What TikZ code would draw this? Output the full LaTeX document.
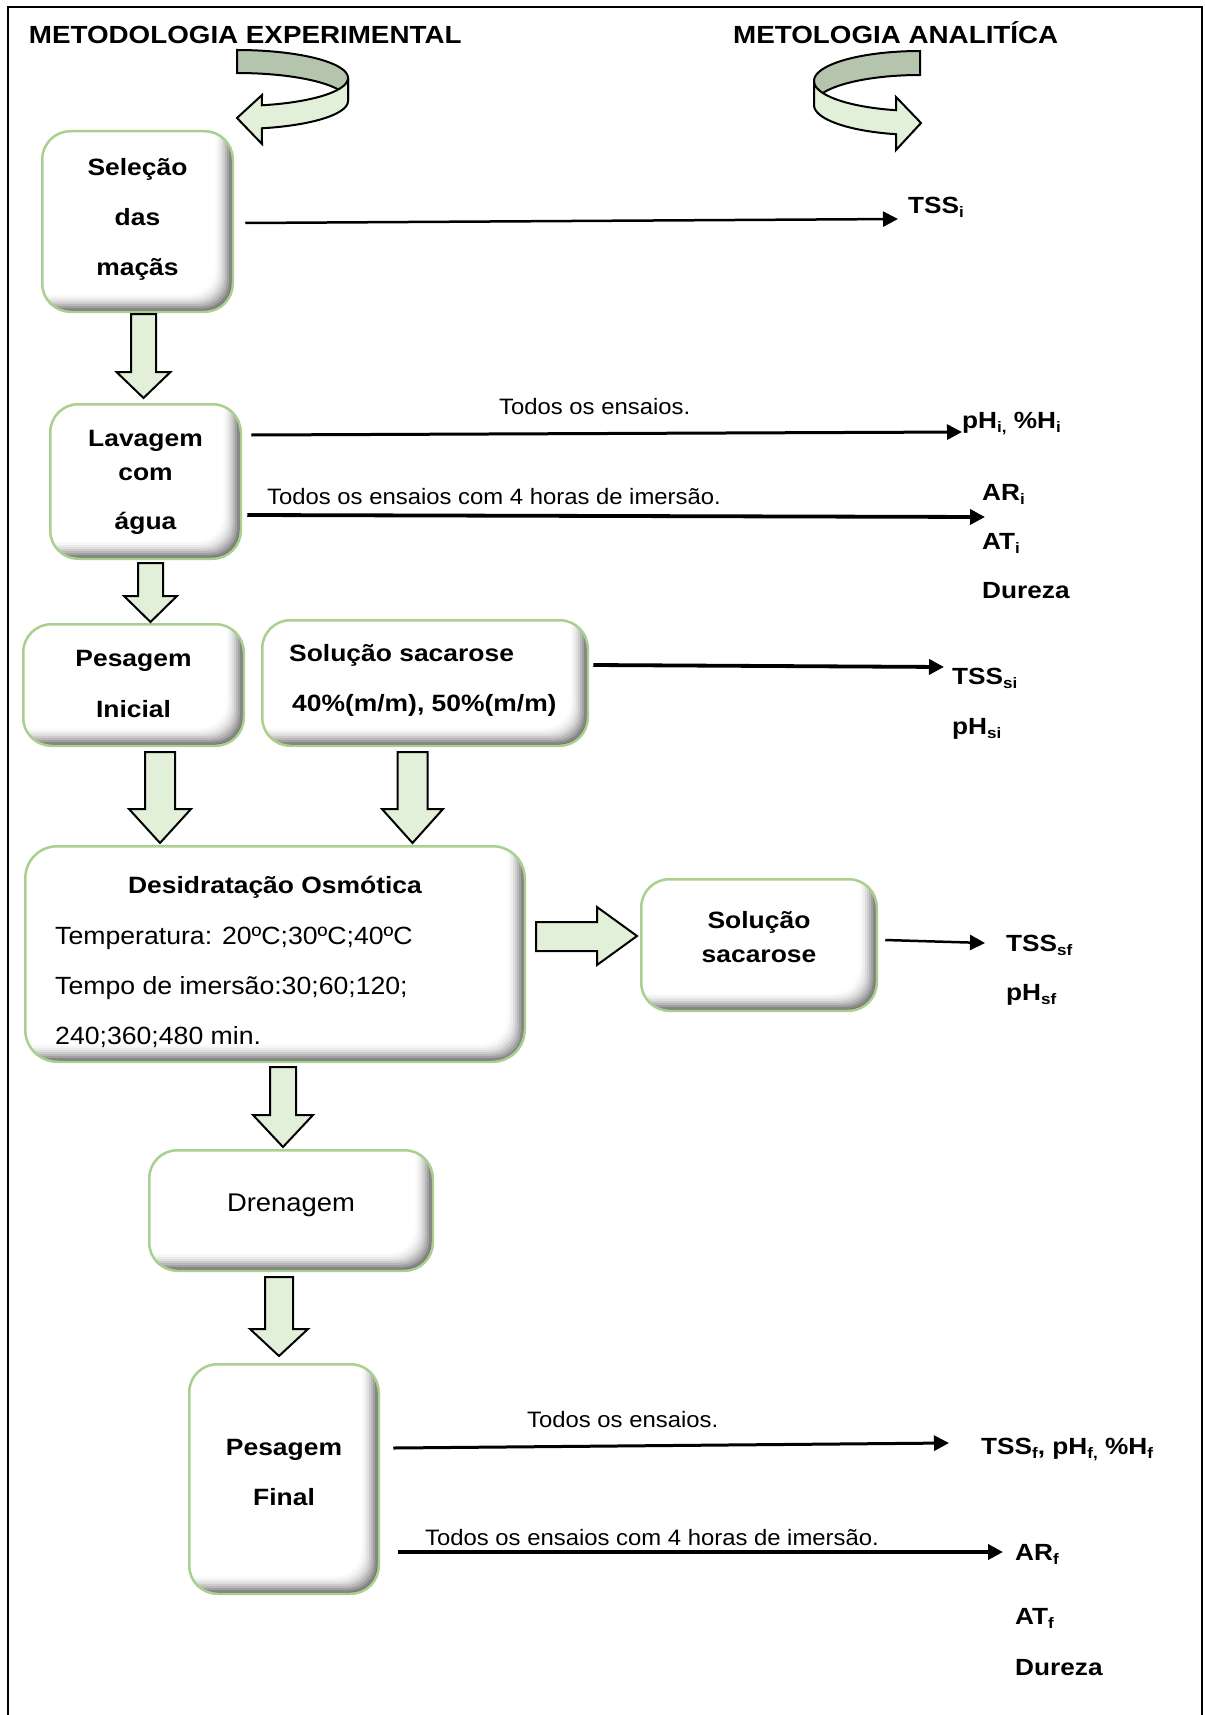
\documentclass[tikz,border=0pt]{standalone}
\usepackage{fontspec}
\setmainfont{Liberation Sans}[FakeStretch=1.12]
\newfontfamily\regfam{Liberation Sans}[FakeStretch=1.07]
\usetikzlibrary{calc,arrows.meta}
\definecolor{boxgreen}{RGB}{169,208,142}
\definecolor{arrfill}{RGB}{226,239,217}
\definecolor{arrdark}{RGB}{181,196,172}
\newcommand\myfs[1]{\fontsize{#1}{#1}\selectfont}
\newcommand\lo[1]{\raisebox{-0.18em}{\scalebox{0.65}{#1}}}
\newcommand\blockdown[6]{%
  \draw[blockarrow] ({#1-#2},#3) -- ({#1+#2},#3) -- ({#1+#2},#4) -- ({#1+#5},#4) -- (#1,#6) -- ({#1-#5},#4) -- ({#1-#2},#4) -- cycle;}
\tikzset{
  boxsty/.style={draw=boxgreen, line width=2.5pt, rounded corners=28pt, inner sep=0pt, fill=white,
    path picture={
      \foreach \kk/\cc in {0/58,2/47,4/37,6/28,8/20,10/13,12/8,14/4,16/1,18/0}{
        \fill[black!\cc!white, rounded corners=26pt]
          ($(path picture bounding box.north west)+(-40,-40)$) rectangle
          ($(path picture bounding box.south east)+(-\kk,-\kk)$);
      }
    }},
  blockarrow/.style={draw=black, line width=2pt, fill=arrfill, line join=miter},
  curvarr/.style={draw=black, line width=2pt, line join=miter},
  conn/.style={draw=black, line width=2.5pt, -{Triangle[length=15pt,width=15pt]}},
  connthick/.style={conn, line width=3.8pt},
  btxt/.style={inner sep=0pt, font=\bfseries\myfs{23.6}},
  rtxt/.style={inner sep=0pt, font=\regfam\myfs{24.9}},
  note/.style={inner sep=0pt, anchor=base west, font=\regfam\myfs{22.3}},
  lab/.style={inner sep=0pt, anchor=base west, font=\bfseries\myfs{23.4}},
  head/.style={inner sep=0pt, anchor=base west, font=\bfseries\myfs{24.8}},
}
\begin{document}
\begin{tikzpicture}[x=1pt,y=-1pt]
\useasboundingbox (0,0) rectangle (1204,1715);
\fill[white] (0,0) rectangle (1204,1715);
% frame
\draw[line width=2.5pt] (8,1715) -- (8,7) -- (1202,7) -- (1202,1715);

% headings
\node[head] (h1) at (28.7,44) {METODOLOGIA EXPERIMENTAL};
\node[head] (h2) at (733,44) {METOLOGIA ANALITÍCA};

% curved arrow left
\draw[curvarr, fill=arrdark] plot[domain=90:0,samples=40] ({237+111*cos(\x)},{78-28*sin(\x)})
  -- plot[domain=0:90,samples=40] ({237+111*cos(\x)},{101-28*sin(\x)}) -- cycle;
\draw[curvarr, fill=arrfill] plot[domain=-77:0,samples=40] ({237+111*cos(\x)},{78-28*sin(\x)})
  -- plot[domain=0:-77,samples=40] ({237+111*cos(\x)},{101-28*sin(\x)})
  -- (262,144) -- (237,118) -- (262,95) -- cycle;
% curved arrow right
\draw[curvarr, fill=arrdark] plot[domain=90:0,samples=40] ({920-106*cos(\x)},{81-30*sin(\x)})
  -- plot[domain=0:90,samples=40] ({920-106*cos(\x)},{105-30*sin(\x)}) -- cycle;
\draw[curvarr, fill=arrfill] plot[domain=-77:0,samples=40] ({920-106*cos(\x)},{81-30*sin(\x)})
  -- plot[domain=0:-77,samples=40] ({920-106*cos(\x)},{105-30*sin(\x)})
  -- (896,150) -- (921,123) -- (896,97) -- cycle;

% boxes
\node[boxsty, minimum width=190.5pt, minimum height=180.5pt] (sel) at (137.5,221.5) {};
\node[boxsty, minimum width=190.5pt, minimum height=154.5pt] (lav) at (145.5,481.5) {};
\node[boxsty, minimum width=220.5pt, minimum height=121.5pt] (pesi) at (133.5,685) {};
\node[boxsty, minimum width=325.5pt, minimum height=125.5pt] (sol1) at (425,683) {};
\node[boxsty, rounded corners=32pt, minimum width=499.5pt, minimum height=215.5pt] (des) at (275,954) {};
\node[boxsty, minimum width=235.5pt, minimum height=131.5pt] (sol2) at (759,945) {};
\node[boxsty, minimum width=283.5pt, minimum height=120.5pt] (dren) at (291,1210.5) {};
\node[boxsty, minimum width=189.5pt, minimum height=229.5pt] (pesf) at (284,1479) {};

% box texts
\node[btxt, anchor=base] (t1a) at (137.5,176) {Seleção};
\node[btxt, anchor=base] (t1b) at (137.5,225.5) {das};
\node[btxt, anchor=base] (t1c) at (137.5,275) {maçãs};
\node[btxt, anchor=base] (t2a) at (145.5,446) {Lavagem};
\node[btxt, anchor=base] (t2b) at (145.5,480) {com};
\node[btxt, anchor=base] (t2c) at (145.5,529) {água};
\node[btxt, anchor=base] (t3a) at (133.5,666) {Pesagem};
\node[btxt, anchor=base] (t3b) at (133.5,717) {Inicial};
\node[btxt, anchor=base west] (t4a) at (289,661) {Solução sacarose};
\node[btxt, anchor=base west] (t4b) at (292,711) {40\%(m/m), 50\%(m/m)};
\node[btxt, anchor=base] (t5a) at (275,893) {Desidratação Osmótica};
\node[rtxt, anchor=base west] (t5b) at (55,944) {Temperatura: 20ºC;30ºC;40ºC};
\node[rtxt, anchor=base west] (t5c) at (55,994) {Tempo de imersão:30;60;120;};
\node[rtxt, anchor=base west] (t5d) at (55,1044) {240;360;480 min.};
\node[btxt, anchor=base] (t6a) at (759,928) {Solução};
\node[btxt, anchor=base] (t6b) at (759,962) {sacarose};
\node[rtxt, anchor=base, font=\regfam\myfs{25.6}] (t7) at (291,1211) {Drenagem};
\node[btxt, anchor=base] (t8a) at (284,1455) {Pesagem};
\node[btxt, anchor=base] (t8b) at (284,1505) {Final};

% block arrows
\blockdown{143.5}{12.5}{314}{372}{27}{398}
\blockdown{150.5}{12.5}{563}{596}{26.5}{622}
\blockdown{160}{15}{752}{809}{31}{843}
\blockdown{412.5}{15}{752}{809}{30.5}{843}
\blockdown{283}{13}{1067}{1115}{30}{1147}
\blockdown{279}{14}{1277}{1329}{29}{1356}
\draw[blockarrow] (536,922) -- (597,922) -- (597,907) -- (637,936) -- (597,965) -- (597,951) -- (536,951) -- cycle;

% right-hand labels
\node[lab] (tssi) at (908,213) {TSS\lo{i}};
\node[lab] (phi) at (962,428) {pH\lo{i,} \%H\lo{i}};
\node[lab] (ari) at (982,500) {AR\lo{i}};
\node[lab] (ati) at (982,549.5) {AT\lo{i}};
\node[lab] (duri) at (982,598.5) {Dureza};
\node[lab] (tsssi) at (952,684.5) {TSS\lo{si}};
\node[lab] (phsi) at (952,734.5) {pH\lo{si}};
\node[lab] (tsssf) at (1006,951.5) {TSS\lo{sf}};
\node[lab] (phsf) at (1006,1000.5) {pH\lo{sf}};
\node[lab] (tssf) at (981,1454.5) {TSS\lo{f}, pH\lo{f,} \%H\lo{f}};
\node[lab] (arf) at (1015,1560.5) {AR\lo{f}};
\node[lab] (atf) at (1015,1624.5) {AT\lo{f}};
\node[lab] (durf) at (1015,1675.5) {Dureza};

% notes
\node[note] (n1) at (499,414.6) {Todos os ensaios.};
\node[note] (n2) at (267,504.6) {Todos os ensaios com 4 horas de imersão.};
\node[note] (n3) at (527,1427.6) {Todos os ensaios.};
\node[note] (n4) at (425,1545.6) {Todos os ensaios com 4 horas de imersão.};

% connector end points
\coordinate (e1) at (898,219);
\coordinate (e2) at (962,432);
\coordinate (e3) at (985,517);
\coordinate (e4) at (944,667);
\coordinate (e5) at (985,943);
\coordinate (e6) at (949,1443);
\coordinate (e7) at (1003,1552);

\draw[conn] ($(sel.east)+(11.25,1.5)$) -- (e1);
\draw[conn, line width=3pt] ($(lav.east)+(9.25,-46.5)$) -- (e2);
\draw[connthick] ($(lav.east)+(5.25,33.5)$) -- (e3);
\draw[connthick] ($(sol1.east)+(4.25,-18)$) -- (e4);
\draw[conn] ($(sol2.east)+(7.25,-5)$) -- (e5);
\draw[conn, line width=3pt] ($(pesf.east)+(13.25,-31)$) -- (e6);
\draw[connthick] ($(pesf.east)+(18.25,73)$) -- (e7);
\end{tikzpicture}
\end{document}
